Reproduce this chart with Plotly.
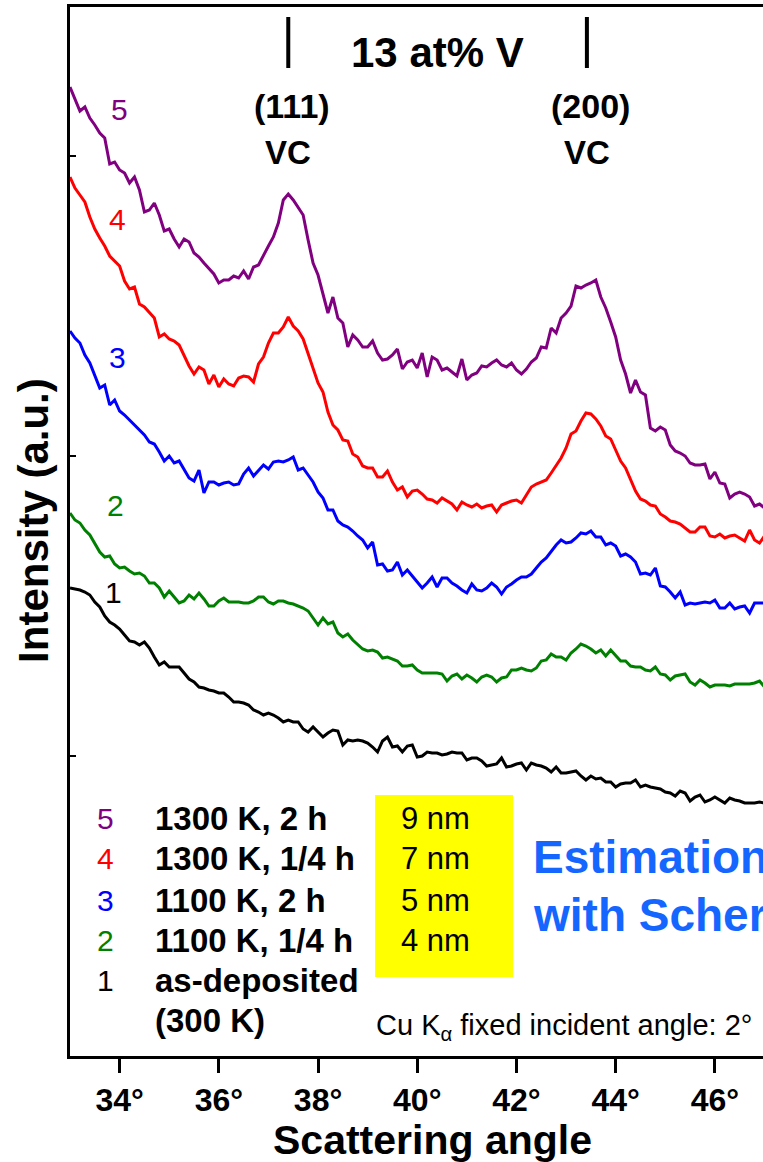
import numpy as np
import plotly.graph_objects as go

# Scan grid (degrees 2-theta), 0.1 deg steps
two_theta = np.linspace(33.0, 47.0, 141)

# Intensities (a.u., curves offset vertically as plotted)
i_1300K_2h = [
    969, 956, 945, 949, 938, 931, 923, 918, 892, 894,
    886, 883, 873, 879, 866, 844, 846, 853, 841, 825,
    827, 817, 809, 817, 814, 803, 799, 793, 788, 782,
    773, 776, 776, 780, 778, 785, 777, 789, 791, 801,
    810, 819, 833, 856, 862, 856, 848, 841, 816, 793,
    781, 763, 743, 759, 738, 733, 709, 721, 716, 709,
    709, 715, 703, 696, 697, 701, 707, 687, 694, 696,
    688, 703, 679, 699, 696, 686, 688, 684, 680, 697,
    676, 681, 683, 690, 689, 693, 696, 691, 689, 693,
    686, 682, 687, 694, 698, 709, 708, 728, 723, 738,
    743, 750, 770, 768, 771, 773, 776, 759, 748, 734,
    719, 696, 682, 663, 676, 664, 661, 628, 625, 629,
    626, 611, 605, 603, 600, 593, 591, 591, 592, 577,
    584, 573, 572, 558, 562, 564, 562, 559, 550, 552,
    548]

i_1300K_qh = [
    879, 868, 861, 854, 839, 827, 818, 810, 800, 795,
    790, 775, 767, 769, 752, 749, 744, 738, 719, 722,
    717, 715, 711, 701, 690, 682, 689, 686, 672, 681,
    669, 677, 672, 670, 678, 680, 679, 674, 692, 699,
    713, 723, 723, 729, 739, 730, 725, 717, 703, 687,
    673, 664, 644, 631, 626, 616, 615, 602, 599, 590,
    588, 588, 579, 579, 585, 574, 566, 569, 559, 565,
    566, 562, 557, 556, 553, 558, 555, 552, 546, 554,
    551, 549, 552, 548, 550, 551, 544, 551, 553, 555,
    556, 553, 561, 569, 572, 574, 576, 583, 590, 598,
    608, 622, 625, 635, 643, 642, 637, 630, 620, 617,
    606, 595, 588, 577, 565, 557, 555, 551, 550, 542,
    539, 535, 534, 532, 528, 524, 524, 529, 529, 520,
    519, 522, 518, 520, 521, 518, 515, 526, 516, 513,
    520]

i_1100K_2h = [
    725, 718, 713, 701, 693, 681, 668, 671, 651, 656,
    645, 641, 636, 632, 627, 621, 614, 612, 604, 595,
    600, 593, 595, 586, 578, 575, 586, 563, 574, 574,
    571, 573, 574, 571, 572, 582, 588, 580, 586, 591,
    587, 594, 595, 594, 596, 599, 586, 588, 581, 574,
    564, 558, 546, 546, 535, 531, 529, 525, 520, 516,
    508, 514, 491, 492, 485, 486, 494, 481, 486, 480,
    474, 468, 473, 479, 469, 478, 478, 473, 470, 466,
    463, 472, 466, 465, 468, 473, 469, 462, 469, 472,
    476, 479, 479, 482, 488, 494, 498, 505, 511, 516,
    513, 514, 518, 523, 522, 525, 519, 519, 511, 513,
    510, 500, 502, 499, 494, 482, 483, 481, 488, 470,
    469, 464, 458, 464, 451, 453, 452, 453, 454, 453,
    456, 448, 448, 453, 447, 449, 450, 443, 453, 453,
    453]

i_1100K_qh = [
    543, 536, 533, 526, 521, 513, 504, 499, 500, 492,
    488, 489, 485, 482, 483, 480, 473, 473, 468, 459,
    465, 459, 453, 455, 461, 457, 463, 457, 450, 450,
    455, 458, 454, 454, 454, 453, 453, 455, 459, 459,
    454, 452, 455, 455, 453, 452, 450, 448, 445, 438,
    431, 438, 432, 434, 423, 419, 422, 416, 411, 407,
    405, 406, 404, 398, 399, 397, 395, 390, 390, 391,
    386, 383, 383, 383, 383, 382, 375, 380, 382, 377,
    381, 378, 374, 379, 381, 379, 374, 378, 379, 386,
    386, 388, 386, 385, 388, 395, 396, 402, 399, 399,
    396, 403, 407, 412, 410, 407, 403, 406, 400, 406,
    401, 395, 395, 390, 389, 389, 386, 385, 389, 382,
    381, 376, 380, 381, 382, 374, 371, 376, 373, 369,
    371, 371, 371, 370, 372, 372, 372, 372, 373, 375,
    369]

i_as_deposited = [
    468, 467, 466, 464, 461, 454, 449, 440, 434, 431,
    427, 421, 415, 414, 411, 414, 408, 399, 391, 394,
    389, 389, 389, 383, 377, 374, 369, 368, 366, 365,
    363, 363, 359, 354, 354, 353, 351, 346, 344, 341,
    343, 341, 338, 334, 336, 334, 334, 327, 324, 329,
    324, 319, 323, 326, 325, 311, 316, 315, 316, 315,
    313, 309, 304, 315, 319, 309, 310, 304, 310, 311,
    299, 300, 304, 303, 303, 301, 302, 304, 303, 303,
    296, 298, 298, 295, 290, 291, 292, 298, 289, 290,
    292, 293, 286, 293, 291, 290, 288, 284, 289, 283,
    283, 284, 285, 280, 276, 280, 277, 278, 274, 274,
    269, 272, 273, 273, 276, 269, 271, 269, 268, 267,
    264, 263, 260, 265, 263, 255, 259, 261, 254, 256,
    259, 256, 253, 258, 256, 255, 253, 253, 253, 254,
    253]

curve_ids = ["5", "4", "3", "2", "1"]
conditions = ["1300 K, 2 h", "1300 K, 1/4 h", "1100 K, 2 h", "1100 K, 1/4 h", "as-deposited"]
grain_sizes = ["9 nm", "7 nm", "5 nm", "4 nm"]
peak_labels = ["(111)", "(200)"]
peak_angles = [37.4, 43.42]
x_ticks = [34, 36, 38, 40, 42, 44, 46]
x_tick_text = ["34°", "36°", "38°", "40°", "42°", "44°", "46°"]

series = [i_1300K_2h, i_1300K_qh, i_1100K_2h, i_1100K_qh, i_as_deposited]
colors = ["#800080", "#FF0000", "#0000FF", "#008000", "#000000"]

FONT = "Liberation Sans, Arial, sans-serif"

fig = go.Figure()
for ys, col, cid in zip(series, colors, curve_ids):
    fig.add_trace(go.Scatter(x=two_theta, y=ys, mode="lines",
                             line=dict(color=col, width=3), name=cid,
                             showlegend=False))

ann = []


def text(x, y, s, size, color="black", xanchor="center", bold=False,
         xref="x", yref="y", **kw):
    if bold:
        s = "<b>" + s + "</b>"
    ann.append(dict(x=x, y=y, xref=xref, yref=yref, text=s, showarrow=False,
                    xanchor=xanchor, yanchor="middle",
                    font=dict(family=FONT, size=size, color=color), **kw))


# title and peak markers
text(40.40, 1004, "13 at% V", 42, bold=True)
for ang, lab in zip(peak_angles, peak_labels):
    text(ang + 0.08, 950, lab, 34, bold=True)
    text(ang, 904, "VC", 33, bold=True)

# curve numbers next to each trace
curve_label_xy = [(33.99, 947), (33.96, 837), (33.96, 699), (33.92, 551), (33.87, 464)]
for (lx, ly), cid, col in zip(curve_label_xy, curve_ids, colors):
    text(lx, ly, cid, 30, color=col)

# key: numbers, conditions and sizes
key_y = [238, 198, 156, 116, 76]
for ky, cid, col, cond in zip(key_y, curve_ids, colors, conditions):
    text(33.71, ky, cid, 30, color=col)
    text(34.68, ky, cond, 33, xanchor="left", bold=True)
text(34.68, 36, "(300 K)", 33, xanchor="left", bold=True)
for ky, gs in zip(key_y, grain_sizes):
    text(40.37, ky, gs, 31)

text(42.30, 199, "Estimation", 46, color="#1466FF", xanchor="left", bold=True)
text(42.30, 141, "with Scherrer", 46, color="#1466FF", xanchor="left", bold=True)
text(39.12, 29, "Cu K<sub>α</sub> fixed incident angle: 2°", 29, xanchor="left")

# axis titles (paper coordinates, outside the plotting area)
text(0.5224, -0.080, "Scattering angle", 41, bold=True, xref="paper", yref="paper")
text(-0.052, 0.511, "Intensity (a.u.)", 42, bold=True, xref="paper", yref="paper",
     textangle=-90)

shapes = [dict(type="rect", xref="x", yref="y", x0=39.15, x1=41.93, y0=79, y1=261,
               fillcolor="#FFFF00", line=dict(width=0), layer="below")]
for ang in peak_angles:
    shapes.append(dict(type="line", xref="x", yref="y", x0=ang, x1=ang, y0=988, y1=1039,
                       line=dict(color="black", width=4)))

fig.update_layout(
    width=763, height=1162,
    margin=dict(l=70, r=0, t=7, b=106),
    plot_bgcolor="white", paper_bgcolor="white",
    annotations=ann, shapes=shapes,
    xaxis=dict(range=[33, 46.97], tickvals=x_ticks,
               ticktext=["<b>" + t + "</b>" for t in x_tick_text],
               ticks="outside", ticklen=14, tickwidth=3, tickcolor="black",
               showline=True, linewidth=3, linecolor="black", mirror=True,
               showgrid=False, zeroline=False,
               tickfont=dict(family=FONT, size=32, color="black")),
    yaxis=dict(range=[0, 1049], tickvals=[300, 600, 900], ticks="inside",
               ticklen=6, tickwidth=2, tickcolor="black", showticklabels=False,
               showline=True, linewidth=3, linecolor="black",
               showgrid=False, zeroline=False),
)

fig.write_html("out.html")
